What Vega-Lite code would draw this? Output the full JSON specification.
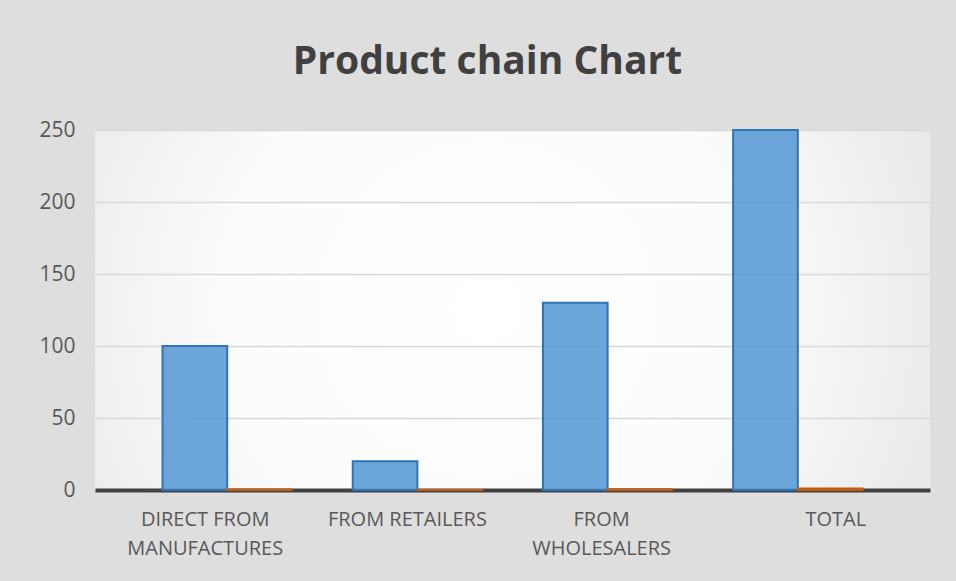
{
  "$schema": "https://vega.github.io/schema/vega-lite/v6.json",
  "autosize": {"type": "none"},
  "width": 835,
  "height": 360,
  "padding": {"left": 95, "top": 130, "right": 26, "bottom": 91},
  "background": "#dedede",
  "config": {
    "font": "Open Sans",
    "view": {
      "stroke": null,
      "fill": {
        "gradient": "radial",
        "x1": 0.47, "y1": 0.5, "r1": 0,
        "x2": 0.47, "y2": 0.5, "r2": 0.72,
        "stops": [
          {"offset": 0, "color": "#ffffff"},
          {"offset": 0.45, "color": "#fbfbfb"},
          {"offset": 1, "color": "#dedede"}
        ]
      }
    }
  },
  "title": {
    "text": "Product chain Chart",
    "fontSize": 39,
    "fontWeight": "bold",
    "color": "#404040",
    "font": "Open Sans",
    "anchor": "middle",
    "dx": -25,
    "offset": 37
  },
  "data": {
    "values": [
      {"source": "DIRECT FROM MANUFACTURES", "series": "Number", "value": 100},
      {"source": "DIRECT FROM MANUFACTURES", "series": "Percentage", "value": 0.4},
      {"source": "FROM RETAILERS", "series": "Number", "value": 20},
      {"source": "FROM RETAILERS", "series": "Percentage", "value": 0.08},
      {"source": "FROM WHOLESALERS", "series": "Number", "value": 130},
      {"source": "FROM WHOLESALERS", "series": "Percentage", "value": 0.52},
      {"source": "TOTAL", "series": "Number", "value": 250},
      {"source": "TOTAL", "series": "Percentage", "value": 1}
    ]
  },
  "mark": {"type": "bar", "fillOpacity": 0.9, "strokeWidth": 2},
  "encoding": {
    "x": {
      "field": "source",
      "type": "nominal",
      "sort": null,
      "title": null,
      "scale": {"paddingInner": 0.32, "paddingOuter": 0.355},
      "axis": {
        "labelAngle": 0,
        "labelFontSize": 20,
        "labelColor": "#595959",
        "labelPadding": 19,
        "labelLineHeight": 29,
        "labelLimit": 300,
        "ticks": false,
        "domainColor": "#404040",
        "domainWidth": 4,
        "labelOffset": {
          "condition": [
            {"test": "datum.value == 'TOTAL'", "value": 38},
            {"test": "datum.value == 'DIRECT FROM MANUFACTURES'", "value": -22},
            {"test": "datum.value == 'FROM RETAILERS'", "value": -10}
          ],
          "value": -6
        },
        "labelExpr": "datum.label == 'DIRECT FROM MANUFACTURES' ? ['DIRECT FROM', 'MANUFACTURES'] : datum.label == 'FROM WHOLESALERS' ? ['FROM', 'WHOLESALERS'] : datum.label"
      }
    },
    "xOffset": {"field": "series", "type": "nominal", "scale": {"paddingInner": 0}},
    "y": {
      "field": "value",
      "type": "quantitative",
      "title": null,
      "scale": {"domain": [0, 250], "nice": false},
      "axis": {
        "values": [0, 50, 100, 150, 200, 250],
        "labelFontSize": 21,
        "labelColor": "#595959",
        "labelPadding": 20,
        "ticks": false,
        "domain": false,
        "gridColor": "#d9d9d9",
        "gridWidth": 1.5
      }
    },
    "color": {
      "field": "series",
      "type": "nominal",
      "legend": null,
      "scale": {"domain": ["Number", "Percentage"], "range": ["#5b9bd5", "#c55a11"]}
    },
    "stroke": {
      "field": "series",
      "type": "nominal",
      "legend": null,
      "scale": {"domain": ["Number", "Percentage"], "range": ["#2e75b6", "#c55a11"]}
    }
  }
}
